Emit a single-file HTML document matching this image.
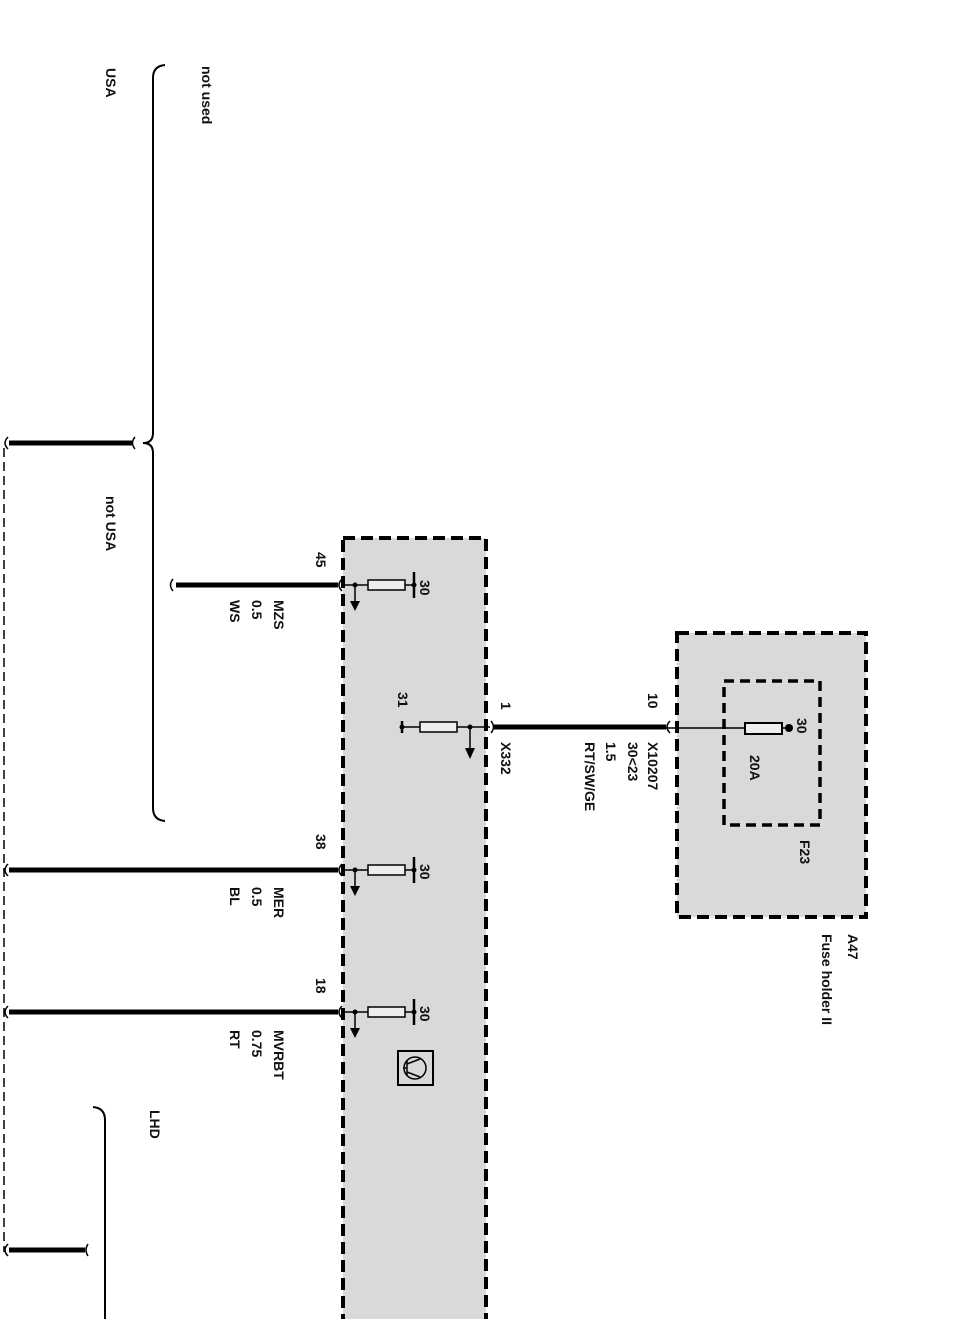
<!DOCTYPE html>
<html><head><meta charset="utf-8"><style>
html,body{margin:0;padding:0;background:#fff;}
svg{display:block;}
text{font-family:"Liberation Sans",Arial,sans-serif;font-size:14px;font-weight:bold;fill:#111;}
</style></head><body>
<svg width="955" height="1319" viewBox="0 0 955 1319" xmlns="http://www.w3.org/2000/svg">
<rect x="343" y="538" width="143" height="800" fill="#d9d9d9" stroke="#000" stroke-width="4" stroke-dasharray="12,6"/>
<rect x="677" y="633" width="189" height="284" fill="#d9d9d9" stroke="#000" stroke-width="4" stroke-dasharray="12,6"/>
<rect x="724" y="681" width="96" height="144" fill="none" stroke="#000" stroke-width="3.5" stroke-dasharray="10,6"/>

<line x1="4" y1="448" x2="4" y2="1252" stroke="#000" stroke-width="1.5" stroke-dasharray="9,5"/>

<path d="M165,65 Q153,66 153,78 L153,433 Q153,443 143,443 Q153,443 153,453 L153,808 Q153,820 165,821" fill="none" stroke="#000" stroke-width="2"/>
<path d="M93,1107 Q105,1108 105,1120 L105,1319" fill="none" stroke="#000" stroke-width="2"/>

<g stroke="#000" stroke-width="5" fill="none">
<line x1="9" y1="443" x2="132" y2="443"/>
<line x1="176" y1="585" x2="338" y2="585"/>
<line x1="9" y1="870" x2="338" y2="870"/>
<line x1="9" y1="1012" x2="338" y2="1012"/>
<line x1="9" y1="1250" x2="85" y2="1250"/>
<line x1="494" y1="727" x2="666" y2="727"/>
</g>
<g stroke="#000" stroke-width="1.5" fill="none">
<path d="M135,437 Q130,443 135,449"/>
<path d="M8,437 Q2,443 8,449"/>
<path d="M173,579 Q168,585 173,591"/>
<path d="M342,579 Q336,585 342,591"/>
<path d="M8,864 Q2,870 8,876"/><path d="M342,864 Q336,870 342,876"/>
<path d="M8,1006 Q2,1012 8,1018"/><path d="M342,1006 Q336,1012 342,1018"/>
<path d="M8,1244 Q2,1250 8,1256"/><path d="M88,1244 Q84,1250 88,1256"/>
<path d="M491,721 Q496,727 491,733"/>
<path d="M670,721 Q664,727 670,733"/>
</g>

<g stroke="#000" stroke-width="1.5" fill="none">
<line x1="343" y1="585" x2="368" y2="585"/><rect x="368" y="580" width="37" height="10" fill="#eee"/><line x1="405" y1="585" x2="414" y2="585"/><line x1="414" y1="572" x2="414" y2="598" stroke-width="2.5"/><line x1="355" y1="585" x2="355" y2="603"/>
<line x1="343" y1="870" x2="368" y2="870"/><rect x="368" y="865" width="37" height="10" fill="#eee"/><line x1="405" y1="870" x2="414" y2="870"/><line x1="414" y1="857" x2="414" y2="883" stroke-width="2.5"/><line x1="355" y1="870" x2="355" y2="888"/>
<line x1="343" y1="1012" x2="368" y2="1012"/><rect x="368" y="1007" width="37" height="10" fill="#eee"/><line x1="405" y1="1012" x2="414" y2="1012"/><line x1="414" y1="999" x2="414" y2="1025" stroke-width="2.5"/><line x1="355" y1="1012" x2="355" y2="1030"/>
<line x1="402" y1="727" x2="420" y2="727"/><rect x="420" y="722" width="37" height="10" fill="#eee"/><line x1="457" y1="727" x2="490" y2="727"/><line x1="402" y1="721" x2="402" y2="733" stroke-width="2.5"/><line x1="470" y1="727" x2="470" y2="750"/>
<rect x="398" y="1051" width="35" height="34" fill="none" stroke-width="2"/><circle cx="415" cy="1068" r="11"/>
<line x1="407" y1="1060" x2="407" y2="1076"/><line x1="403" y1="1068" x2="407" y2="1068"/><line x1="407" y1="1064" x2="420" y2="1059"/><line x1="407" y1="1072" x2="420" y2="1077"/>
<line x1="666" y1="728" x2="745" y2="728"/><rect x="745" y="723" width="37" height="11" fill="#eee" stroke-width="2"/><line x1="782" y1="728" x2="790" y2="728"/>
</g>
<g fill="#000">
<circle cx="355" cy="585" r="2.5"/><circle cx="355" cy="870" r="2.5"/><circle cx="355" cy="1012" r="2.5"/><circle cx="470" cy="727" r="2.5"/><circle cx="402" cy="727" r="2.5"/><circle cx="789" cy="728" r="4"/><circle cx="414" cy="585" r="2.5"/><circle cx="414" cy="870" r="2.5"/><circle cx="414" cy="1012" r="2.5"/>
<path d="M350,601 L360,601 L355,611Z"/><path d="M350,886 L360,886 L355,896Z"/><path d="M350,1028 L360,1028 L355,1038Z"/><path d="M465,748 L475,748 L470,759Z"/>
</g>

<g>
<text transform="translate(106,68) rotate(90)">USA</text>
<text transform="translate(202,66) rotate(90)">not used</text>
<text transform="translate(106,496) rotate(90)">not USA</text>
<text transform="translate(150,1110) rotate(90)">LHD</text>
<text transform="translate(316,552) rotate(90)">45</text>
<text transform="translate(274,600) rotate(90)">MZS</text>
<text transform="translate(252,600) rotate(90)">0.5</text>
<text transform="translate(230,600) rotate(90)">WS</text>
<text transform="translate(420,580) rotate(90)">30</text>
<text transform="translate(398,692) rotate(90)">31</text>
<text transform="translate(501,702) rotate(90)">1</text>
<text transform="translate(501,742) rotate(90)" font-weight="normal">X332</text>
<text transform="translate(628,742) rotate(90)">30&lt;23</text>
<text transform="translate(606,742) rotate(90)">1.5</text>
<text transform="translate(585,742) rotate(90)">RT/SW/GE</text>
<text transform="translate(648,693) rotate(90)">10</text>
<text transform="translate(648,742) rotate(90)" font-weight="normal">X10207</text>
<text transform="translate(797,718) rotate(90)">30</text>
<text transform="translate(750,755) rotate(90)">20A</text>
<text transform="translate(800,840) rotate(90)" font-weight="normal">F23</text>
<text transform="translate(848,934) rotate(90)" font-weight="normal">A47</text>
<text transform="translate(822,934) rotate(90)">Fuse holder II</text>
<text transform="translate(316,834) rotate(90)">38</text>
<text transform="translate(274,887) rotate(90)">MER</text>
<text transform="translate(252,887) rotate(90)">0.5</text>
<text transform="translate(230,887) rotate(90)">BL</text>
<text transform="translate(420,864) rotate(90)">30</text>
<text transform="translate(316,978) rotate(90)">18</text>
<text transform="translate(274,1030) rotate(90)">MVRBT</text>
<text transform="translate(252,1030) rotate(90)">0.75</text>
<text transform="translate(230,1030) rotate(90)">RT</text>
<text transform="translate(420,1006) rotate(90)">30</text>
</g>
</svg>
</body></html>
